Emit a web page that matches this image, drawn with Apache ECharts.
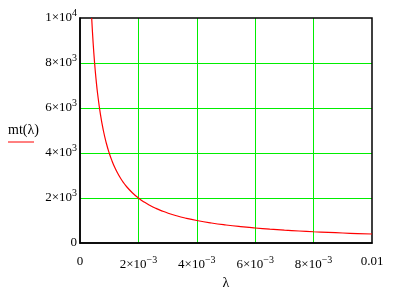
<!DOCTYPE html>
<html><head><meta charset="utf-8">
<script src="https://cdn.jsdelivr.net/npm/echarts@6/dist/echarts.min.js"></script>
<style>html,body{margin:0;padding:0;background:#fff}#c{width:394px;height:293px}</style>
</head><body><div id="c"></div>
<script>
// data
const lambdaVals = [0.0004,0.00045,0.0005,0.00055,0.0006,0.0007,0.0008,0.0009,0.001,0.0011,0.0012,0.0013,0.0014,0.0015,0.0016,0.0018,0.002,0.0022,0.0024,0.0026,0.0028,0.003,0.0033,0.0036,0.004,0.0045,0.005,0.0055,0.006,0.0065,0.007,0.0075,0.008,0.0085,0.009,0.0095,0.01];
const mtVals = [10000,8889,8000,7273,6667,5714,5000,4444,4000,3636,3333,3077,2857,2667,2500,2222,2000,1818,1667,1538,1429,1333,1212,1111,1000,889,800,727,667,615,571,533,500,471,444,421,400];
const xTickVals = [0,0.002,0.004,0.006,0.008,0.01];
const xTickText = [['0',''],['2×10','−3'],['4×10','−3'],['6×10','−3'],['8×10','−3'],['0.01','']];
const yTickVals = [0,2000,4000,6000,8000,10000];
const yTickText = [['0',''],['2×10','3'],['4×10','3'],['6×10','3'],['8×10','3'],['1×10','4']];
const seriesName = 'mt(λ)';
const xName = 'λ';

const FONT = 'Liberation Serif';
function fmt(vals, texts){
  return function(v){
    let i = vals.findIndex(t => Math.abs(t - v) < 1e-9 * Math.max(1, Math.abs(t)));
    if (i < 0) return '';
    const t = texts[i];
    return t[1] ? '{b|' + t[0] + '}{s|' + t[1] + '}' : '{b|' + t[0] + '}';
  };
}
const rich = {
  b: {fontFamily: FONT, fontSize: 13, color: '#000'},
  s: {fontFamily: FONT, fontSize: 10, color: '#000', padding: [0,0,9,0]}
};

const chart = echarts.init(document.getElementById('c'));
chart.setOption({
  animation: false,
  backgroundColor: '#fff',
  grid: {left: 80, top: 18, width: 292, height: 225, outerBoundsMode: 'none', containLabel: false, show: true, borderColor: '#000', borderWidth: 1.5, backgroundColor: 'transparent', z: 3},
  xAxis: {
    type: 'value', min: 0, max: 0.01, interval: 0.002,
    name: xName, nameLocation: 'middle', nameGap: 31,
    nameTextStyle: {fontFamily: FONT, fontSize: 14, color: '#000'},
    axisLine: {show: true, lineStyle: {color: '#000', width: 1.5}},
    axisTick: {show: false},
    axisLabel: {margin: 12, formatter: fmt(xTickVals, xTickText), rich: rich},
    splitLine: {show: true, showMinLine: false, showMaxLine: false, lineStyle: {color: '#00ee00', width: 1}}
  },
  yAxis: {
    type: 'value', min: 0, max: 10000, interval: 2000,
    axisLine: {show: true, lineStyle: {color: '#000', width: 1.5}},
    axisTick: {show: false},
    axisLabel: {margin: 3, formatter: fmt(yTickVals, yTickText), rich: rich},
    splitLine: {show: true, showMinLine: false, showMaxLine: false, lineStyle: {color: '#00ee00', width: 1}}
  },
  graphic: [
    {type: 'text', left: 8, top: 123, style: {text: seriesName, fontFamily: FONT, fontSize: 14, fill: '#000'}},
    {type: 'line', shape: {x1: 8, y1: 142, x2: 34, y2: 142}, style: {stroke: '#ff0000', lineWidth: 1}}
  ],
  series: [{
    name: seriesName, type: 'line', smooth: true, symbol: 'none', clip: true,
    lineStyle: {color: '#ff0000', width: 1.2},
    data: lambdaVals.map((x, i) => [x, mtVals[i]])
  }]
});
</script></body></html>
